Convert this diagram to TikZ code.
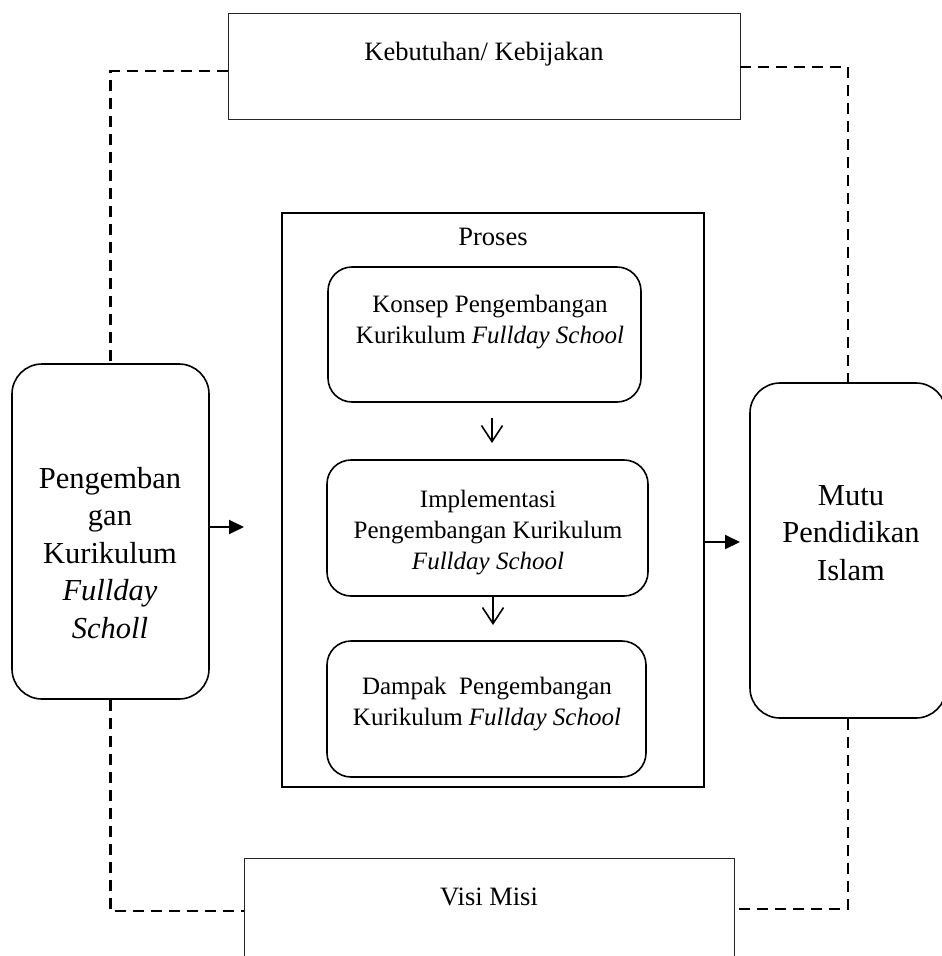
\documentclass[tikz,border=0pt]{standalone}
\usepackage{fontspec}
\setmainfont{Liberation Serif}
\usetikzlibrary{arrows.meta}
\tikzset{
  plainbox/.style={draw=black!85, line width=0.9pt, inner sep=0pt},
  procbox/.style={draw=black, line width=2pt, inner sep=0pt},
  roundbox/.style={draw=black, line width=1.6pt, rounded corners=30pt, inner sep=0pt},
  innerbox/.style={draw=black, line width=1.6pt, rounded corners=24pt, inner sep=0pt},
  smalltxt/.style={align=center, font=\fontsize{25}{31}\selectfont, inner sep=0pt},
  midtxt/.style={align=center, font=\fontsize{26.5}{32}\selectfont, inner sep=0pt},
  bigtxt/.style={align=center, font=\fontsize{30.5}{37.5}\selectfont, inner sep=0pt},
  dashline/.style={draw=black, line width=2.5pt, dash pattern=on 11pt off 7pt},
  bigarrow/.style={draw=black, line width=2pt, -{Triangle[length=15pt,width=14pt]}},
  downarrow/.style={draw=black, line width=1.6pt, -{Straight Barb[length=16pt,width=21pt,line width=1.6pt]}}
}
\begin{document}
\begin{tikzpicture}[x=1pt,y=-1pt]
\clip (0,0) rectangle (942,956);
\fill[white] (0,0) rectangle (942,956);

% top and bottom boxes
\node[plainbox, minimum width=512pt, minimum height=106pt] (top) at (484,66) {};
\node[midtxt] (toptext) at (484,54) {Kebutuhan/ Kebijakan};
\node[plainbox, minimum width=490pt, minimum height=106pt] (visi) at (489,911) {};
\node[midtxt] (visitext) at (489,897) {Visi Misi};

% process box
\node[procbox, minimum width=422pt, minimum height=574pt] (proc) at (493,500) {};
\node[midtxt] (proses) at (493,237) {Proses};

% inner boxes
\node[innerbox, minimum width=313pt, minimum height=135pt] (b1) at (484.5,334.5) {};
\node[smalltxt] (b1text) at (490,322) {Konsep Pengembangan\\Kurikulum \textit{Fullday School}};
\node[innerbox, minimum width=321pt, minimum height=136pt] (b2) at (487.5,528) {};
\node[smalltxt] (b2text) at (488,533) {Implementasi\\Pengembangan Kurikulum\\\textit{Fullday School}};
\node[innerbox, minimum width=319pt, minimum height=136pt] (b3) at (486.5,709) {};
\node[smalltxt] (b3text) at (487,704) {Dampak\ \ Pengembangan\\Kurikulum \textit{Fullday School}};

% side boxes
\node[roundbox, minimum width=197pt, minimum height=335pt] (left) at (110.5,531.5) {};
\node[bigtxt] (lefttext) at (110,553) {Pengemban\\gan\\Kurikulum\\\textit{Fullday}\\\textit{Scholl}};
\node[roundbox, minimum width=196pt, minimum height=335pt] (right) at (848,550.5) {};
\node[bigtxt] (righttext) at (851,533) {Mutu\\Pendidikan\\Islam};

% dashed connectors
\draw[dashline] ([yshift=-5pt]top.west) -| (left.north);
\draw[dashline] ([yshift=-1pt]top.east) -| (right.north);
\draw[dashline] (left.south) |- (visi.west);
\draw[dashline] (right.south) |- ([yshift=2pt]visi.east);

% arrows
\coordinate (la) at (244,527);
\draw[bigarrow] (left.east |- la) -- (la);
\coordinate (ra) at (740,542);
\draw[bigarrow] (proc.east |- ra) -- (ra);
\coordinate (d1s) at (492,418);
\coordinate (d1e) at (492,443);
\draw[downarrow] (d1s) -- (d1e);
\coordinate (d2s) at (493,597);
\coordinate (d2e) at (493,625);
\draw[downarrow] (d2s) -- (d2e);
\end{tikzpicture}
\end{document}
